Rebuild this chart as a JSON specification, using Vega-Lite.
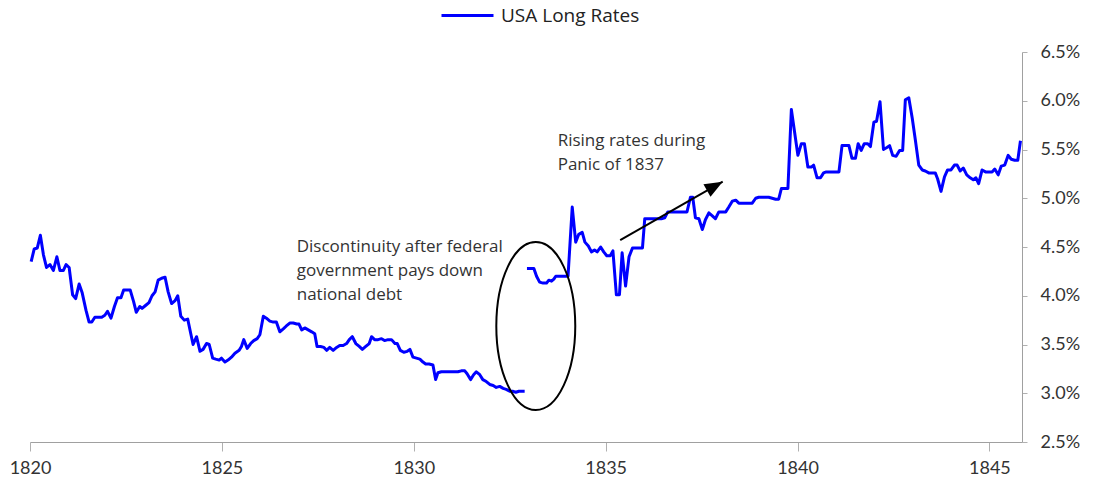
{
  "$schema": "https://vega.github.io/schema/vega-lite/v6.json",
  "width": 992,
  "height": 390,
  "autosize": "none",
  "padding": {"left": 30, "top": 52, "right": 75, "bottom": 39},
  "background": "white",
  "config": {
    "view": {"stroke": null},
    "font": "Lato",
    "text": {"font": "Lato"}
  },
  "datasets": {
    "rates": [
      {"d":1820.03,"r":4.35,"s":1},{"d":1820.11,"r":4.48,"s":1},{"d":1820.19,"r":4.49,"s":1},{"d":1820.27,"r":4.62,"s":1},{"d":1820.35,"r":4.42,"s":1},{"d":1820.43,"r":4.29,"s":1},{"d":1820.52,"r":4.32,"s":1},{"d":1820.61,"r":4.26,"s":1},{"d":1820.70,"r":4.40,"s":1},{"d":1820.78,"r":4.26,"s":1},{"d":1820.87,"r":4.26,"s":1},{"d":1820.94,"r":4.32,"s":1},{"d":1821.02,"r":4.29,"s":1},{"d":1821.11,"r":4.01,"s":1},{"d":1821.19,"r":3.97,"s":1},{"d":1821.28,"r":4.12,"s":1},{"d":1821.36,"r":4.03,"s":1},{"d":1821.46,"r":3.85,"s":1},{"d":1821.54,"r":3.73,"s":1},{"d":1821.61,"r":3.73,"s":1},{"d":1821.69,"r":3.78,"s":1},{"d":1821.87,"r":3.78,"s":1},{"d":1821.95,"r":3.80,"s":1},{"d":1822.02,"r":3.84,"s":1},{"d":1822.11,"r":3.77,"s":1},{"d":1822.20,"r":3.89,"s":1},{"d":1822.28,"r":3.98,"s":1},{"d":1822.37,"r":3.98,"s":1},{"d":1822.44,"r":4.06,"s":1},{"d":1822.61,"r":4.06,"s":1},{"d":1822.70,"r":3.94,"s":1},{"d":1822.77,"r":3.83,"s":1},{"d":1822.86,"r":3.89,"s":1},{"d":1822.92,"r":3.87,"s":1},{"d":1823.01,"r":3.90,"s":1},{"d":1823.10,"r":3.93,"s":1},{"d":1823.18,"r":4.00,"s":1},{"d":1823.26,"r":4.04,"s":1},{"d":1823.34,"r":4.16,"s":1},{"d":1823.43,"r":4.18,"s":1},{"d":1823.52,"r":4.19,"s":1},{"d":1823.60,"r":4.04,"s":1},{"d":1823.69,"r":3.92,"s":1},{"d":1823.78,"r":3.95,"s":1},{"d":1823.85,"r":4.00,"s":1},{"d":1823.93,"r":3.79,"s":1},{"d":1824.02,"r":3.75,"s":1},{"d":1824.11,"r":3.76,"s":1},{"d":1824.19,"r":3.61,"s":1},{"d":1824.25,"r":3.50,"s":1},{"d":1824.34,"r":3.58,"s":1},{"d":1824.43,"r":3.43,"s":1},{"d":1824.51,"r":3.45,"s":1},{"d":1824.60,"r":3.51,"s":1},{"d":1824.67,"r":3.50,"s":1},{"d":1824.76,"r":3.36,"s":1},{"d":1824.84,"r":3.35,"s":1},{"d":1824.93,"r":3.34,"s":1},{"d":1824.99,"r":3.36,"s":1},{"d":1825.08,"r":3.32,"s":1},{"d":1825.16,"r":3.34,"s":1},{"d":1825.25,"r":3.37,"s":1},{"d":1825.34,"r":3.41,"s":1},{"d":1825.45,"r":3.44,"s":1},{"d":1825.51,"r":3.48,"s":1},{"d":1825.57,"r":3.55,"s":1},{"d":1825.66,"r":3.46,"s":1},{"d":1825.75,"r":3.51,"s":1},{"d":1825.83,"r":3.54,"s":1},{"d":1825.92,"r":3.56,"s":1},{"d":1825.99,"r":3.60,"s":1},{"d":1826.08,"r":3.79,"s":1},{"d":1826.16,"r":3.77,"s":1},{"d":1826.25,"r":3.74,"s":1},{"d":1826.34,"r":3.73,"s":1},{"d":1826.42,"r":3.73,"s":1},{"d":1826.51,"r":3.63,"s":1},{"d":1826.60,"r":3.66,"s":1},{"d":1826.68,"r":3.69,"s":1},{"d":1826.77,"r":3.72,"s":1},{"d":1826.86,"r":3.72,"s":1},{"d":1826.95,"r":3.71,"s":1},{"d":1827.01,"r":3.71,"s":1},{"d":1827.08,"r":3.65,"s":1},{"d":1827.16,"r":3.67,"s":1},{"d":1827.25,"r":3.65,"s":1},{"d":1827.34,"r":3.63,"s":1},{"d":1827.42,"r":3.61,"s":1},{"d":1827.48,"r":3.48,"s":1},{"d":1827.57,"r":3.48,"s":1},{"d":1827.66,"r":3.47,"s":1},{"d":1827.73,"r":3.44,"s":1},{"d":1827.81,"r":3.47,"s":1},{"d":1827.90,"r":3.44,"s":1},{"d":1827.99,"r":3.47,"s":1},{"d":1828.07,"r":3.49,"s":1},{"d":1828.16,"r":3.49,"s":1},{"d":1828.25,"r":3.51,"s":1},{"d":1828.32,"r":3.55,"s":1},{"d":1828.40,"r":3.58,"s":1},{"d":1828.49,"r":3.51,"s":1},{"d":1828.58,"r":3.48,"s":1},{"d":1828.66,"r":3.45,"s":1},{"d":1828.75,"r":3.48,"s":1},{"d":1828.84,"r":3.51,"s":1},{"d":1828.90,"r":3.58,"s":1},{"d":1828.98,"r":3.55,"s":1},{"d":1829.07,"r":3.55,"s":1},{"d":1829.16,"r":3.56,"s":1},{"d":1829.24,"r":3.54,"s":1},{"d":1829.33,"r":3.55,"s":1},{"d":1829.42,"r":3.55,"s":1},{"d":1829.51,"r":3.51,"s":1},{"d":1829.57,"r":3.51,"s":1},{"d":1829.65,"r":3.44,"s":1},{"d":1829.74,"r":3.42,"s":1},{"d":1829.83,"r":3.43,"s":1},{"d":1829.90,"r":3.45,"s":1},{"d":1829.98,"r":3.37,"s":1},{"d":1830.07,"r":3.36,"s":1},{"d":1830.16,"r":3.35,"s":1},{"d":1830.24,"r":3.32,"s":1},{"d":1830.31,"r":3.30,"s":1},{"d":1830.40,"r":3.30,"s":1},{"d":1830.50,"r":3.29,"s":1},{"d":1830.57,"r":3.14,"s":1},{"d":1830.63,"r":3.21,"s":1},{"d":1830.72,"r":3.22,"s":1},{"d":1830.81,"r":3.22,"s":1},{"d":1830.89,"r":3.22,"s":1},{"d":1830.98,"r":3.22,"s":1},{"d":1831.07,"r":3.22,"s":1},{"d":1831.15,"r":3.22,"s":1},{"d":1831.24,"r":3.23,"s":1},{"d":1831.33,"r":3.23,"s":1},{"d":1831.39,"r":3.20,"s":1},{"d":1831.48,"r":3.14,"s":1},{"d":1831.56,"r":3.19,"s":1},{"d":1831.63,"r":3.22,"s":1},{"d":1831.72,"r":3.19,"s":1},{"d":1831.80,"r":3.14,"s":1},{"d":1831.89,"r":3.12,"s":1},{"d":1831.98,"r":3.09,"s":1},{"d":1832.07,"r":3.08,"s":1},{"d":1832.15,"r":3.06,"s":1},{"d":1832.24,"r":3.07,"s":1},{"d":1832.33,"r":3.05,"s":1},{"d":1832.41,"r":3.04,"s":1},{"d":1832.50,"r":3.02,"s":1},{"d":1832.59,"r":3.02,"s":1},{"d":1832.66,"r":3.01,"s":1},{"d":1832.74,"r":3.02,"s":1},{"d":1832.89,"r":3.02,"s":1},
      {"d":1832.95,"r":4.28,"s":2},{"d":1833.13,"r":4.28,"s":2},{"d":1833.20,"r":4.20,"s":2},{"d":1833.28,"r":4.14,"s":2},{"d":1833.37,"r":4.13,"s":2},{"d":1833.46,"r":4.13,"s":2},{"d":1833.52,"r":4.16,"s":2},{"d":1833.59,"r":4.15,"s":2},{"d":1833.65,"r":4.17,"s":2},{"d":1833.70,"r":4.20,"s":2},{"d":1833.80,"r":4.20,"s":2},{"d":1833.89,"r":4.20,"s":2},{"d":1834.02,"r":4.20,"s":2},{"d":1834.13,"r":4.91,"s":2},{"d":1834.22,"r":4.55,"s":2},{"d":1834.30,"r":4.63,"s":2},{"d":1834.39,"r":4.65,"s":2},{"d":1834.46,"r":4.55,"s":2},{"d":1834.55,"r":4.51,"s":2},{"d":1834.63,"r":4.45,"s":2},{"d":1834.71,"r":4.47,"s":2},{"d":1834.78,"r":4.45,"s":2},{"d":1834.87,"r":4.50,"s":2},{"d":1834.95,"r":4.45,"s":2},{"d":1835.03,"r":4.41,"s":2},{"d":1835.12,"r":4.41,"s":2},{"d":1835.19,"r":4.46,"s":2},{"d":1835.28,"r":4.01,"s":2},{"d":1835.36,"r":4.01,"s":2},{"d":1835.43,"r":4.44,"s":2},{"d":1835.52,"r":4.10,"s":2},{"d":1835.61,"r":4.40,"s":2},{"d":1835.70,"r":4.49,"s":2},{"d":1835.78,"r":4.49,"s":2},{"d":1835.87,"r":4.49,"s":2},{"d":1835.96,"r":4.49,"s":2},{"d":1836.02,"r":4.79,"s":2},{"d":1836.10,"r":4.79,"s":2},{"d":1836.19,"r":4.79,"s":2},{"d":1836.28,"r":4.79,"s":2},{"d":1836.36,"r":4.79,"s":2},{"d":1836.45,"r":4.79,"s":2},{"d":1836.54,"r":4.80,"s":2},{"d":1836.62,"r":4.86,"s":2},{"d":1836.71,"r":4.86,"s":2},{"d":1836.80,"r":4.86,"s":2},{"d":1836.88,"r":4.86,"s":2},{"d":1836.97,"r":4.86,"s":2},{"d":1837.06,"r":4.86,"s":2},{"d":1837.12,"r":4.86,"s":2},{"d":1837.21,"r":5.01,"s":2},{"d":1837.27,"r":5.01,"s":2},{"d":1837.34,"r":4.80,"s":2},{"d":1837.43,"r":4.79,"s":2},{"d":1837.52,"r":4.68,"s":2},{"d":1837.60,"r":4.78,"s":2},{"d":1837.69,"r":4.85,"s":2},{"d":1837.78,"r":4.82,"s":2},{"d":1837.86,"r":4.79,"s":2},{"d":1837.95,"r":4.86,"s":2},{"d":1838.04,"r":4.86,"s":2},{"d":1838.13,"r":4.86,"s":2},{"d":1838.21,"r":4.91,"s":2},{"d":1838.30,"r":4.97,"s":2},{"d":1838.39,"r":4.98,"s":2},{"d":1838.47,"r":4.95,"s":2},{"d":1838.56,"r":4.95,"s":2},{"d":1838.65,"r":4.95,"s":2},{"d":1838.73,"r":4.95,"s":2},{"d":1838.82,"r":4.95,"s":2},{"d":1838.91,"r":5.00,"s":2},{"d":1838.99,"r":5.01,"s":2},{"d":1839.08,"r":5.01,"s":2},{"d":1839.17,"r":5.01,"s":2},{"d":1839.25,"r":5.01,"s":2},{"d":1839.34,"r":5.00,"s":2},{"d":1839.43,"r":4.99,"s":2},{"d":1839.51,"r":4.99,"s":2},{"d":1839.58,"r":5.10,"s":2},{"d":1839.66,"r":5.10,"s":2},{"d":1839.75,"r":5.10,"s":2},{"d":1839.84,"r":5.91,"s":2},{"d":1839.92,"r":5.69,"s":2},{"d":1840.01,"r":5.44,"s":2},{"d":1840.10,"r":5.56,"s":2},{"d":1840.18,"r":5.56,"s":2},{"d":1840.27,"r":5.32,"s":2},{"d":1840.36,"r":5.32,"s":2},{"d":1840.42,"r":5.34,"s":2},{"d":1840.51,"r":5.21,"s":2},{"d":1840.60,"r":5.21,"s":2},{"d":1840.68,"r":5.26,"s":2},{"d":1840.75,"r":5.27,"s":2},{"d":1840.83,"r":5.27,"s":2},{"d":1840.92,"r":5.27,"s":2},{"d":1841.01,"r":5.27,"s":2},{"d":1841.08,"r":5.27,"s":2},{"d":1841.16,"r":5.54,"s":2},{"d":1841.25,"r":5.54,"s":2},{"d":1841.34,"r":5.54,"s":2},{"d":1841.42,"r":5.41,"s":2},{"d":1841.51,"r":5.41,"s":2},{"d":1841.58,"r":5.56,"s":2},{"d":1841.66,"r":5.49,"s":2},{"d":1841.74,"r":5.56,"s":2},{"d":1841.83,"r":5.56,"s":2},{"d":1841.90,"r":5.53,"s":2},{"d":1841.99,"r":5.78,"s":2},{"d":1842.06,"r":5.79,"s":2},{"d":1842.15,"r":5.99,"s":2},{"d":1842.24,"r":5.50,"s":2},{"d":1842.33,"r":5.52,"s":2},{"d":1842.40,"r":5.54,"s":2},{"d":1842.48,"r":5.44,"s":2},{"d":1842.57,"r":5.43,"s":2},{"d":1842.66,"r":5.49,"s":2},{"d":1842.74,"r":5.49,"s":2},{"d":1842.81,"r":6.01,"s":2},{"d":1842.90,"r":6.03,"s":2},{"d":1842.99,"r":5.82,"s":2},{"d":1843.07,"r":5.60,"s":2},{"d":1843.16,"r":5.34,"s":2},{"d":1843.25,"r":5.29,"s":2},{"d":1843.33,"r":5.28,"s":2},{"d":1843.42,"r":5.26,"s":2},{"d":1843.51,"r":5.26,"s":2},{"d":1843.59,"r":5.26,"s":2},{"d":1843.65,"r":5.20,"s":2},{"d":1843.74,"r":5.07,"s":2},{"d":1843.83,"r":5.22,"s":2},{"d":1843.91,"r":5.29,"s":2},{"d":1844.00,"r":5.29,"s":2},{"d":1844.09,"r":5.34,"s":2},{"d":1844.16,"r":5.34,"s":2},{"d":1844.24,"r":5.28,"s":2},{"d":1844.32,"r":5.31,"s":2},{"d":1844.41,"r":5.24,"s":2},{"d":1844.50,"r":5.21,"s":2},{"d":1844.58,"r":5.19,"s":2},{"d":1844.65,"r":5.21,"s":2},{"d":1844.72,"r":5.15,"s":2},{"d":1844.81,"r":5.29,"s":2},{"d":1844.90,"r":5.27,"s":2},{"d":1844.98,"r":5.27,"s":2},{"d":1845.07,"r":5.27,"s":2},{"d":1845.14,"r":5.30,"s":2},{"d":1845.23,"r":5.24,"s":2},{"d":1845.31,"r":5.33,"s":2},{"d":1845.40,"r":5.34,"s":2},{"d":1845.49,"r":5.44,"s":2},{"d":1845.57,"r":5.40,"s":2},{"d":1845.66,"r":5.39,"s":2},{"d":1845.74,"r":5.39,"s":2},{"d":1845.81,"r":5.59,"s":2}
    ],
    "notes": [
      {"x": 1826.95, "y": 4.58, "t": ["Discontinuity after federal", "government pays down", "national debt"]},
      {"x": 1833.75, "y": 5.67, "t": ["Rising rates during", "Panic of 1837"]}
    ],
    "arrow": [
      {"x": 1835.38, "y": 4.57, "x2": 1838.05, "y2": 5.17}
    ],
    "ellipse": [
      {"x": 1833.18, "y": 3.69}
    ]
  },
  "layer": [
    {
      "data": {"name": "rates"},
      "mark": {"type": "line", "strokeWidth": 3, "strokeJoin": "round"},
      "encoding": {
        "x": {
          "field": "d", "type": "quantitative",
          "scale": {"domain": [1820, 1845.85], "nice": false, "zero": false},
          "axis": {
            "title": null, "values": [1820, 1825, 1830, 1835, 1840, 1845], "format": "d",
            "grid": false, "labelFontSize": 18, "labelColor": "#333333", "labelFont": "Lato",
            "tickColor": "#b0b0b0", "tickSize": 9, "domainColor": "#a0a0a0", "labelPadding": 8,
            "labelFlush": false
          }
        },
        "y": {
          "field": "r", "type": "quantitative",
          "scale": {"domain": [2.5, 6.5], "nice": false, "zero": false},
          "axis": {
            "orient": "right", "title": null, "values": [2.5, 3, 3.5, 4, 4.5, 5, 5.5, 6, 6.5],
            "labelExpr": "format(datum.value, '.1f') + '%'",
            "grid": false, "labelFontSize": 18, "labelColor": "#333333", "labelFont": "Lato",
            "tickColor": "#b0b0b0", "tickSize": 5, "domainColor": "#a0a0a0", "labelPadding": 13,
            "labelFlush": false
          }
        },
        "detail": {"field": "s", "type": "nominal"},
        "color": {
          "field": "series", "type": "nominal",
          "scale": {"domain": ["USA Long Rates"], "range": ["#0000ff"]},
          "legend": {
            "title": null, "orient": "none", "legendX": 410, "legendY": -64,
            "symbolType": "stroke", "symbolSize": 2704, "symbolStrokeWidth": 3,
            "labelFontSize": 19, "labelColor": "#222222", "labelFont": "Open Sans", "labelOffset": 6
          }
        }
      },
      "transform": [{"calculate": "'USA Long Rates'", "as": "series"}]
    },
    {
      "mark": {"type": "rule", "color": "#d0d0d0", "strokeWidth": 1.5},
      "encoding": {"x": {"datum": 1820}}
    },
    {
      "data": {"name": "arrow"},
      "mark": {"type": "rule", "color": "black", "strokeWidth": 2},
      "encoding": {
        "x": {"field": "x", "type": "quantitative"},
        "y": {"field": "y", "type": "quantitative"},
        "x2": {"field": "x2"},
        "y2": {"field": "y2"}
      }
    },
    {
      "data": {"name": "arrow"},
      "mark": {"type": "point", "shape": "M0,0L0.8,2L-0.8,2Z", "filled": true, "color": "black", "opacity": 1, "size": 324, "angle": 60.6},
      "encoding": {
        "x": {"field": "x2", "type": "quantitative"},
        "y": {"field": "y2", "type": "quantitative"}
      }
    },
    {
      "data": {"name": "ellipse"},
      "mark": {"type": "point", "shape": "M0,-1A0.47,1 0 1,1 0,1A0.47,1 0 1,1 0,-1Z", "filled": false, "color": "black", "opacity": 1, "strokeWidth": 2, "size": 28224},
      "encoding": {
        "x": {"field": "x", "type": "quantitative"},
        "y": {"field": "y", "type": "quantitative"}
      }
    },
    {
      "data": {"name": "notes"},
      "mark": {"type": "text", "align": "left", "baseline": "top", "fontSize": 17, "lineHeight": 24, "color": "#333333", "font": "Open Sans"},
      "encoding": {
        "x": {"field": "x", "type": "quantitative"},
        "y": {"field": "y", "type": "quantitative"},
        "text": {"field": "t"}
      }
    }
  ]
}
